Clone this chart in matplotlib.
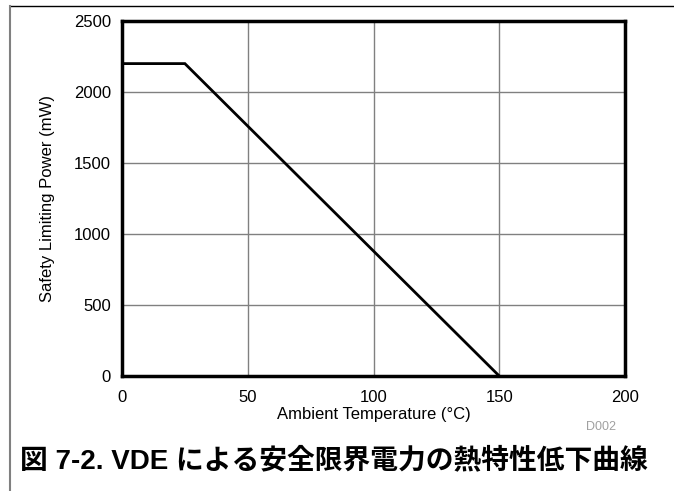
import matplotlib
matplotlib.use("Agg")
import matplotlib.pyplot as plt
from matplotlib.lines import Line2D

# derating curve data
temp_c = [0, 25, 150]
power_mw = [2200, 2200, 0]

x_ticks = [0, 50, 100, 150, 200]
y_ticks = [0, 500, 1000, 1500, 2000, 2500]

plt.rcParams['font.family'] = ['Liberation Sans', 'DejaVu Sans']

fig = plt.figure(figsize=(6.74, 4.91), dpi=100)
left, right, top, bottom = 122, 625, 21, 376
ax = fig.add_axes([left / 674, 1 - bottom / 491, (right - left) / 674, (bottom - top) / 491])

ax.plot(temp_c, power_mw, color='black', lw=2.0, solid_joinstyle='miter')

ax.set_xlim(0, 200)
ax.set_ylim(0, 2500)
ax.set_xticks(x_ticks)
ax.set_yticks(y_ticks)
ax.grid(True, color='#808080', lw=1.0)
ax.set_axisbelow(True)
ax.tick_params(length=0, labelsize=12)
ax.tick_params(axis='x', pad=10)
ax.tick_params(axis='y', pad=8)
for s in ax.spines.values():
    s.set_linewidth(2.5)
    s.set_color('black')

ax.set_xlabel("Ambient Temperature (°C)", fontsize=12, va='center')
ax.set_ylabel("Safety Limiting Power (mW)", fontsize=12, va='center')
ax.xaxis.set_label_coords(0.5, -(414 - bottom) / (bottom - top))
ax.yaxis.set_label_coords(-(left - 48) / (right - left), 0.5)

fig.text(616 / 674, 1 - 427 / 491, "D002", color='#a0a0a0', fontsize=9,
         ha='right', va='center')

fig.text(334 / 674, 1 - 461 / 491, "図 7-2. VDE による安全限界電力の熱特性低下曲線",
         fontsize=20, fontweight='bold', ha='center', va='center',
         family=['Liberation Sans', 'Noto Sans CJK JP'])

# page frame lines
fig.add_artist(Line2D([10 / 674, 1], [1 - 6 / 491, 1 - 6 / 491],
                      transform=fig.transFigure, color='black', lw=1.0))
fig.add_artist(Line2D([10 / 674, 10 / 674], [0, 1 - 6 / 491],
                      transform=fig.transFigure, color='#808080', lw=1.5))

fig.savefig("out.png", dpi=100)
